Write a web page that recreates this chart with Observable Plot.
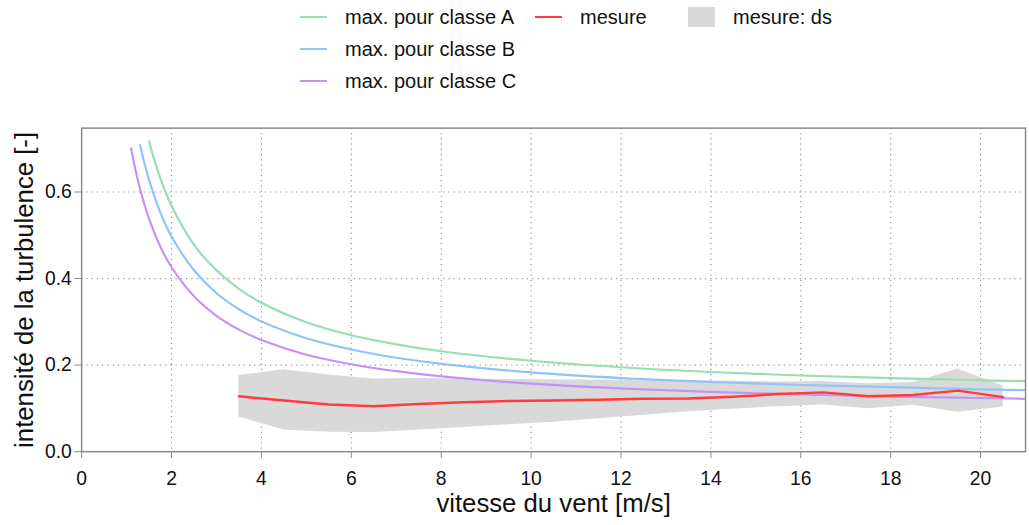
<!DOCTYPE html>
<html>
<head>
<meta charset="utf-8">
<script src="https://cdn.jsdelivr.net/npm/d3@7"></script>
<script src="https://cdn.jsdelivr.net/npm/@observablehq/plot@0.6"></script>
<style>
  html, body { margin: 0; padding: 0; background: #fff; overflow: hidden; }
  body { width: 1029px; height: 525px; position: relative; font-family: "Liberation Sans", Arial, sans-serif; }
  #legend { position: absolute; left: 0; top: 0; width: 1029px; height: 100px; z-index: 2; }
  .item { position: absolute; height: 24px; display: flex; align-items: center; font-size: 20px; color: #111; white-space: nowrap; }
  .sw { display: inline-block; width: 27px; height: 2px; margin-right: 18px; }
  .box { display: inline-block; width: 27px; height: 20px; margin-right: 18px; background: #d9d9d9; }
  #chart { position: absolute; left: 0; top: 0; }
</style>
</head>
<body>
<div id="legend"></div>
<div id="chart"></div>
<script>
// ---- data ----
const vitesse = [3.5, 4.5, 5.5, 6.5, 7.5, 8.5, 9.5, 10.5, 11.5, 12.5, 13.5, 14.5, 15.5, 16.5, 17.5, 18.5, 19.5, 20.5];
const mesure  = [0.128, 0.118, 0.109, 0.105, 0.110, 0.114, 0.117, 0.118, 0.120, 0.122, 0.123, 0.127, 0.133, 0.137, 0.128, 0.131, 0.141, 0.126];
const dsHaut  = [0.176, 0.189, 0.177, 0.168, 0.169, 0.168, 0.167, 0.166, 0.165, 0.164, 0.163, 0.163, 0.161, 0.162, 0.157, 0.160, 0.191, 0.152];
const dsBas   = [0.080, 0.050, 0.045, 0.044, 0.050, 0.056, 0.062, 0.068, 0.076, 0.084, 0.092, 0.098, 0.104, 0.108, 0.099, 0.107, 0.091, 0.103];

const vitesseA = [1.5, 1.6, 1.75, 2, 2.5, 3, 3.5, 4, 5, 6, 7, 8, 10, 12, 14, 16, 18, 20, 21];
const classeA  = [0.717, 0.680, 0.632, 0.568, 0.478, 0.419, 0.376, 0.344, 0.299, 0.269, 0.248, 0.232, 0.210, 0.195, 0.184, 0.176, 0.170, 0.165, 0.163];
const vitesseB = [1.3, 1.4, 1.5, 1.75, 2, 2.5, 3, 3.5, 4, 5, 6, 7, 8, 10, 12, 14, 16, 18, 20, 21];
const classeB  = [0.708, 0.665, 0.628, 0.553, 0.497, 0.419, 0.366, 0.329, 0.301, 0.262, 0.236, 0.217, 0.203, 0.183, 0.170, 0.161, 0.154, 0.149, 0.144, 0.142];
const vitesseC = [1.1, 1.2, 1.3, 1.5, 1.75, 2, 2.5, 3, 3.5, 4, 5, 6, 7, 8, 10, 12, 14, 16, 18, 20, 21];
const classeC  = [0.701, 0.650, 0.607, 0.538, 0.474, 0.426, 0.359, 0.314, 0.282, 0.258, 0.224, 0.202, 0.186, 0.174, 0.157, 0.146, 0.138, 0.132, 0.127, 0.124, 0.122];

const xTicks = [0, 2, 4, 6, 8, 10, 12, 14, 16, 18, 20];
const yTicks = [0, 0.2, 0.4, 0.6];
const xGrid = [2, 4, 6, 8, 10, 12, 14, 16, 18, 20];
const yGrid = [0.2, 0.4, 0.6];

const xLabel = "vitesse du vent [m/s]";
const yLabel = "intensité de la turbulence [-]";

const colA = "#96deb4", colB = "#8ec4fb", colC = "#c592f7", colM = "#ff3c3c", colDs = "#d9d9d9";

const legendItems = [
  {label: "max. pour classe A", color: colA, type: "line"},
  {label: "max. pour classe B", color: colB, type: "line"},
  {label: "max. pour classe C", color: colC, type: "line"},
  {label: "mesure", color: colM, type: "line"},
  {label: "mesure: ds", color: colDs, type: "box"}
];

// ---- build tables ----
const rowsM = vitesse.map((v, i) => ({v, ti: mesure[i], hi: dsHaut[i], lo: dsBas[i]}));
const rowsA = vitesseA.map((v, i) => ({v, ti: classeA[i]}));
const rowsB = vitesseB.map((v, i) => ({v, ti: classeB[i]}));
const rowsC = vitesseC.map((v, i) => ({v, ti: classeC[i]}));

const gridStyle = {stroke: "#9a9a9a", strokeOpacity: 1, strokeWidth: 1.2, strokeDasharray: "1.3,4"};

const plot = Plot.plot({
  width: 1040,
  height: 525,
  marginLeft: 82,
  marginRight: 4,
  marginTop: 129,
  marginBottom: 69,
  style: {fontFamily: "'Liberation Sans', Arial, sans-serif", fontSize: "19.5px", color: "#111", background: "transparent", overflow: "visible"},
  x: {domain: [0, 21]},
  y: {domain: [0, 0.7475]},
  marks: [
    Plot.gridX(xGrid, gridStyle),
    Plot.gridY(yGrid, gridStyle),
    Plot.areaY(rowsM, {x: "v", y1: "lo", y2: "hi", fill: colDs, fillOpacity: 1}),
    Plot.line(rowsA, {x: "v", y: "ti", stroke: colA, strokeWidth: 2.2, curve: "catmull-rom", clip: true}),
    Plot.line(rowsB, {x: "v", y: "ti", stroke: colB, strokeWidth: 2.2, curve: "catmull-rom", clip: true}),
    Plot.line(rowsC, {x: "v", y: "ti", stroke: colC, strokeWidth: 2.2, curve: "catmull-rom", clip: true}),
    Plot.line(rowsM, {x: "v", y: "ti", stroke: colM, strokeWidth: 2.5}),
    Plot.frame({stroke: "#8a8a8a", strokeWidth: 1.5}),
    Plot.axisX({ticks: xTicks, tickSize: 7, tickPadding: 13, stroke: "#8a8a8a", fill: "#111", label: null, tickFormat: d3.format("d")}),
    Plot.axisY({ticks: yTicks, tickSize: 7, tickPadding: 3, stroke: "#8a8a8a", fill: "#111", label: null, tickFormat: d3.format(".1f")}),
    Plot.text([xLabel], {frameAnchor: "bottom", lineAnchor: "middle", textAnchor: "middle", dy: 53, fontSize: 26, fill: "#111"}),
    Plot.text([yLabel], {frameAnchor: "left", lineAnchor: "middle", textAnchor: "middle", dx: -57, rotate: -90, fontSize: 26, fill: "#111"})
  ]
});
document.getElementById("chart").appendChild(plot);

// ---- legend ----
const legend = document.getElementById("legend");
const pos = [
  {left: 300, top: 5},
  {left: 300, top: 37},
  {left: 300, top: 69},
  {left: 535, top: 5},
  {left: 688, top: 5}
];
legendItems.forEach((it, i) => {
  const d = document.createElement("div");
  d.className = "item";
  d.style.left = pos[i].left + "px";
  d.style.top = pos[i].top + "px";
  const s = document.createElement("span");
  s.className = it.type === "box" ? "box" : "sw";
  s.style.background = it.color;
  d.appendChild(s);
  d.appendChild(document.createTextNode(it.label));
  legend.appendChild(d);
});
</script>
</body>
</html>
